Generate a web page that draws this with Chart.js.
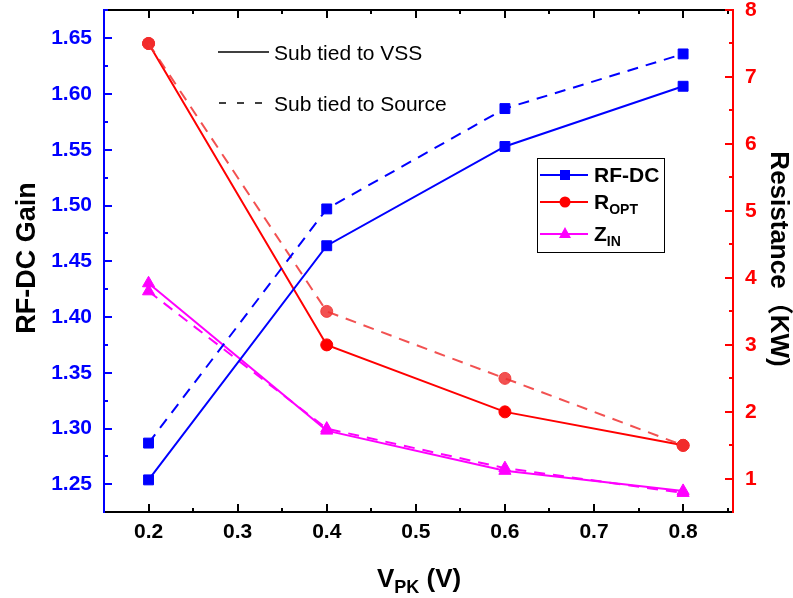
<!DOCTYPE html>
<html>
<head>
<meta charset="utf-8">
<script src="https://cdn.jsdelivr.net/npm/chart.js@4.4.0/dist/chart.umd.min.js"></script>
<style>
  html, body { margin: 0; padding: 0; background: #fff; }
  #wrap { width: 793px; height: 598px; }
</style>
</head>
<body>
<div id="wrap"><canvas id="grafico" width="793" height="598"></canvas></div>
<script>
// V_PK sweep (V)
const vpk = [0.2, 0.4, 0.6, 0.8];

// RF-DC gain, left axis
const gainVss = [1.254, 1.464, 1.553, 1.607];
const gainSource = [1.287, 1.497, 1.587, 1.636];

// R_OPT and Z_IN, right axis (resistance)
const roptVss = [7.5, 3.0, 2.0, 1.5];
const roptSource = [7.5, 3.5, 2.5, 1.5];
const zinVss = [3.92, 1.72, 1.12, 0.82];
const zinSource = [3.80, 1.75, 1.16, 0.79];

// tick labels
const xTicks = [0.2, 0.3, 0.4, 0.5, 0.6, 0.7, 0.8];
const gainTicks = [1.25, 1.30, 1.35, 1.40, 1.45, 1.50, 1.55, 1.60, 1.65];
const resTicks = [1, 2, 3, 4, 5, 6, 7, 8];

const FONT = "'Liberation Sans', Arial, sans-serif";
const BLUE = '#0000ff';
const RED = '#ff0000';
const RED_DASH = 'rgba(240,50,50,0.85)';
const MAGENTA = '#ff00ff';

function pts(ys) {
  return vpk.map((x, i) => ({ x: x, y: ys[i] }));
}

function serie(ys, color, axis, style, radius, dashed) {
  return {
    data: pts(ys),
    yAxisID: axis,
    borderColor: color,
    backgroundColor: color,
    borderWidth: 2,
    borderDash: dashed ? [11, 8] : [],
    pointStyle: style,
    pointRadius: radius,
    pointBorderWidth: 1,
    pointBorderColor: color,
    pointBackgroundColor: color,
    tension: 0
  };
}

// frame, inward ticks, titles and both legends
const decor = {
  id: 'decor',
  afterDraw(chart) {
    const ctx = chart.ctx;
    const a = chart.chartArea;
    const sx = chart.scales.x, sy = chart.scales.y, sr = chart.scales.y1;
    ctx.save();

    // axis lines
    ctx.lineWidth = 2;
    ctx.strokeStyle = '#000';
    ctx.beginPath();
    ctx.moveTo(a.left, a.bottom); ctx.lineTo(a.right, a.bottom);
    ctx.moveTo(a.left, a.top); ctx.lineTo(a.right, a.top);
    ctx.stroke();
    ctx.strokeStyle = BLUE;
    ctx.beginPath(); ctx.moveTo(a.left, a.top - 1); ctx.lineTo(a.left, a.bottom + 1); ctx.stroke();
    ctx.strokeStyle = RED;
    ctx.beginPath(); ctx.moveTo(a.right, a.top - 1); ctx.lineTo(a.right, a.bottom + 1); ctx.stroke();

    // x ticks, bottom and top
    ctx.strokeStyle = '#000';
    ctx.beginPath();
    for (let v = 0.2; v <= 0.851; v += 0.05) {
      const px = Math.round(sx.getPixelForValue(v));
      const len = Math.abs(v * 10 - Math.round(v * 10)) < 0.01 ? 8 : 4;
      ctx.moveTo(px, a.bottom); ctx.lineTo(px, a.bottom - len);
      ctx.moveTo(px, a.top); ctx.lineTo(px, a.top + len);
    }
    ctx.stroke();

    // left ticks
    ctx.strokeStyle = BLUE;
    ctx.beginPath();
    for (let i = 0; i <= 17; i++) {
      const v = 1.25 + i * 0.025;
      if (v > 1.675) break;
      const py = Math.round(sy.getPixelForValue(v));
      const len = i % 2 === 0 ? 8 : 4;
      ctx.moveTo(a.left, py); ctx.lineTo(a.left + len, py);
    }
    ctx.stroke();

    // right ticks
    ctx.strokeStyle = RED;
    ctx.beginPath();
    for (let i = 0; i <= 14; i++) {
      const v = 1 + i * 0.5;
      const py = Math.round(sr.getPixelForValue(v));
      const len = i % 2 === 0 ? 8 : 4;
      ctx.moveTo(a.right, py); ctx.lineTo(a.right - len, py);
    }
    ctx.stroke();

    // axis titles
    ctx.fillStyle = '#000';
    ctx.font = 'bold 27px ' + FONT;
    ctx.textAlign = 'center';
    ctx.textBaseline = 'alphabetic';
    ctx.save();
    ctx.translate(35, 258);
    ctx.rotate(-Math.PI / 2);
    ctx.fillText('RF-DC Gain', 0, 0);
    ctx.restore();

    ctx.save();
    ctx.translate(771, 259);
    ctx.rotate(Math.PI / 2);
    ctx.font = "bold 26px 'Liberation Sans', 'Noto Sans CJK SC', sans-serif";
    ctx.fillText('Resistance（KW)', 0, 0);
    ctx.restore();

    ctx.textAlign = 'left';
    let x = 377;
    ctx.font = 'bold 26px ' + FONT;
    ctx.fillText('V', x, 587);
    x += ctx.measureText('V').width;
    ctx.font = 'bold 18px ' + FONT;
    ctx.fillText('PK', x, 593);
    x += ctx.measureText('PK').width;
    ctx.font = 'bold 26px ' + FONT;
    ctx.fillText(' (V)', x, 587);

    // line style legend
    ctx.strokeStyle = '#000';
    ctx.lineWidth = 1.5;
    ctx.beginPath(); ctx.moveTo(218, 52); ctx.lineTo(269, 52); ctx.stroke();
    ctx.setLineDash([7, 11]);
    ctx.beginPath(); ctx.moveTo(219, 103); ctx.lineTo(269, 103); ctx.stroke();
    ctx.setLineDash([]);
    ctx.font = '21px ' + FONT;
    ctx.fillText('Sub tied to VSS', 274, 60);
    ctx.fillText('Sub tied to Source', 274, 111);

    // series legend box
    ctx.lineWidth = 1;
    ctx.strokeRect(537.5, 158.5, 127, 94);
    const rows = [
      { y: 175, color: BLUE, mark: 'rect', main: 'RF-DC', sub: '' },
      { y: 202, color: RED, mark: 'circle', main: 'R', sub: 'OPT' },
      { y: 234, color: MAGENTA, mark: 'tri', main: 'Z', sub: 'IN' }
    ];
    rows.forEach(r => {
      ctx.strokeStyle = r.color;
      ctx.fillStyle = r.color;
      ctx.lineWidth = 2;
      ctx.beginPath(); ctx.moveTo(540, r.y); ctx.lineTo(588, r.y); ctx.stroke();
      ctx.beginPath();
      if (r.mark === 'rect') ctx.rect(560, r.y - 5, 10, 10);
      else if (r.mark === 'circle') ctx.arc(565, r.y, 5.5, 0, Math.PI * 2);
      else { ctx.moveTo(565, r.y - 7); ctx.lineTo(571, r.y + 4); ctx.lineTo(559, r.y + 4); ctx.closePath(); }
      ctx.fill();
      ctx.fillStyle = '#000';
      ctx.font = 'bold 21px ' + FONT;
      ctx.fillText(r.main, 594, r.y + 7);
      if (r.sub) {
        const w = ctx.measureText(r.main).width;
        ctx.font = 'bold 14px ' + FONT;
        ctx.fillText(r.sub, 594 + w, r.y + 12);
      }
    });

    ctx.restore();
  }
};

const ctx = document.getElementById('grafico').getContext('2d');

new Chart(ctx, {
  type: 'line',
  data: {
    datasets: [
      serie(gainVss, BLUE, 'y', 'rect', 7, false),
      serie(gainSource, BLUE, 'y', 'rect', 7, true),
      serie(roptSource, RED_DASH, 'y1', 'circle', 6, true),
      serie(roptVss, RED, 'y1', 'circle', 6, false),
      serie(zinVss, MAGENTA, 'y1', 'triangle', 7, false),
      serie(zinSource, MAGENTA, 'y1', 'triangle', 7, true)
    ]
  },
  options: {
    responsive: false,
    animation: false,
    events: [],
    layout: { padding: { top: 10, left: 0, right: 0, bottom: 0 } },
    plugins: {
      legend: { display: false },
      tooltip: { enabled: false }
    },
    scales: {
      x: {
        type: 'linear',
        position: 'bottom',
        min: 0.15,
        max: 0.856,
        grid: { display: false, drawTicks: false },
        border: { display: false },
        afterBuildTicks: s => { s.ticks = xTicks.map(v => ({ value: v })); },
        afterFit: s => { s.height = 86; s.paddingLeft = 0; s.paddingRight = 0; },
        ticks: {
          color: '#000',
          padding: 8,
          maxRotation: 0,
          autoSkip: false,
          font: { family: FONT, size: 21, weight: 'bold' },
          callback: v => v.toFixed(1)
        }
      },
      y: {
        type: 'linear',
        position: 'left',
        min: 1.2252,
        max: 1.6754,
        grid: { display: false, drawTicks: false },
        border: { display: false },
        afterBuildTicks: s => { s.ticks = gainTicks.map(v => ({ value: v })); },
        afterFit: s => { s.width = 104; s.paddingTop = 0; s.paddingBottom = 0; },
        ticks: {
          color: BLUE,
          padding: 12,
          autoSkip: false,
          font: { family: FONT, size: 21, weight: 'bold' },
          callback: v => v.toFixed(2)
        }
      },
      y1: {
        type: 'linear',
        position: 'right',
        min: 0.505,
        max: 8.0,
        grid: { display: false, drawTicks: false },
        border: { display: false },
        afterBuildTicks: s => { s.ticks = resTicks.map(v => ({ value: v })); },
        afterFit: s => { s.width = 60; s.paddingTop = 0; s.paddingBottom = 0; },
        ticks: {
          color: RED,
          padding: 12,
          autoSkip: false,
          font: { family: FONT, size: 21, weight: 'bold' },
          callback: v => String(v)
        }
      }
    }
  },
  plugins: [decor]
});
</script>
</body>
</html>
